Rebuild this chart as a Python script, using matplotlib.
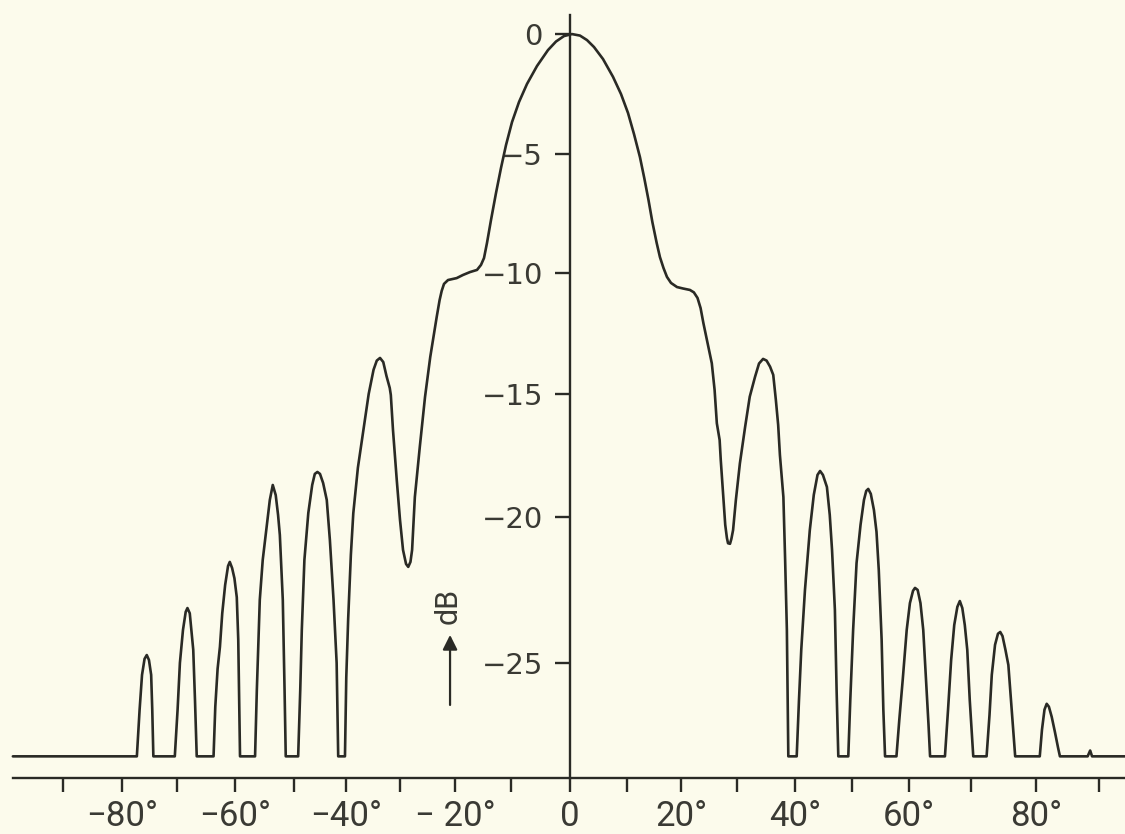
import numpy as np
import matplotlib
matplotlib.use("Agg")
import matplotlib.pyplot as plt
from matplotlib.ticker import FixedLocator, FixedFormatter

angle_deg = [
    -98.5, -77.3, -76.8, -76.36, -75.9, -75.5, -75.1, -74.7, -74.5, -74.3,
    -70.4, -69.9, -69.5, -68.97, -68.5, -68.2, -67.8, -67.5, -67.2, -66.9, -66.6,
    -63.7, -63.4, -63.0, -62.6, -62.2, -61.7, -61.2, -60.9, -60.5, -60.1, -59.7, -59.45, -59.3, -59.15,
    -56.6, -56.3, -55.8, -55.3, -54.7, -54.1, -53.6, -53.1, -52.7, -52.4, -51.9, -51.6, -51.4,
    -49.2, -48.8, -48.5, -48.0, -47.25, -46.5, -46.0, -45.5, -45.0, -44.4, -43.7, -43.1, -42.4, -41.8, -41.5,
    -40.2, -39.95, -39.6, -39.1, -38.65, -37.8, -36.8, -35.8, -34.9, -34.3, -33.7, -33.1, -32.5, -31.9,
    -31.7, -31.3, -30.6, -30.0, -29.45, -28.9, -28.5, -28.1, -27.8, -27.3, -26.4, -25.45, -24.5, -23.33,
    -22.8, -22.42, -22.0, -21.27, -19.7, -18.57, -17.32, -16.07, -15.36, -14.82, -14.29, -13.57, -12.68,
    -11.79, -10.89, -9.83, -8.64, -7.29, -5.59, -3.73, -2.37, -1.02, 0.35, 1.75, 2.98, 4.21, 5.79,
    7.54, 8.95, 10.19, 11.3, 12.4, 13.2, 13.98, 14.7, 15.5, 16.1, 16.76, 17.4, 18.15, 19.26, 20.36,
    21.6, 22.3, 22.95, 23.5, 24.0,
    24.75, 25.5, 26.0, 26.4, 26.9, 27.1, 27.55, 27.9, 28.2, 28.4, 28.75, 29.0, 29.3, 29.8, 30.5, 31.4,
    32.2, 33.1, 33.8, 34.5, 35.1, 35.7, 36.25, 36.7, 37.1, 37.4, 38.0, 38.3, 38.6, 38.85,
    40.3, 40.7, 41.1, 41.75, 42.6, 43.3, 43.95, 44.4, 44.9, 45.6, 46.1, 46.5, 47.0, 47.3, 47.6,
    49.35, 49.7, 50.2, 50.8, 51.5, 52.1, 52.5, 52.85, 53.3, 53.85, 54.3, 54.7, 55.2, 55.5, 55.8,
    57.8, 58.3, 58.9, 59.6, 60.15, 60.65, 60.97, 61.4, 61.85, 62.3, 62.75, 63.15, 63.4,
    65.8, 66.3, 66.8, 67.3, 67.8, 68.2, 68.6, 69.0, 69.4, 69.8, 70.35,
    72.4, 72.85, 73.2, 73.7, 74.15, 74.5, 74.85, 75.3, 75.75, 76.15, 76.5, 76.8,
    80.6, 80.95, 81.35, 81.7, 82.05, 82.5, 83.0, 83.5, 83.8,
    88.2, 88.6, 88.9, 94.1,
]
level_db = [
    -28.2, -28.2, -26.6, -25.41, -24.86, -24.73, -24.9, -25.41, -26.6, -28.2,
    -28.2, -26.6, -25.0, -23.87, -23.25, -23.12, -23.3, -23.94, -24.55, -26.27, -28.2,
    -28.2, -26.5, -25.2, -24.45, -23.3, -22.33, -21.68, -21.54, -21.75, -22.1, -22.75, -24.2, -26.3, -28.2,
    -28.2, -25.93, -22.84, -21.47, -20.45, -19.31, -18.7, -19.11, -19.92, -20.62, -22.84, -25.93, -28.2,
    -28.2, -25.93, -23.87, -21.47, -19.84, -18.7, -18.25, -18.17, -18.25, -18.62, -19.31, -20.79, -22.84, -25.0, -28.2,
    -28.2, -25.5, -23.5, -21.3, -19.85, -18.0, -16.5, -15.0, -14.0, -13.62, -13.51, -13.68, -14.26, -14.75,
    -15.04, -16.46, -18.5, -20.1, -21.13, -21.61, -21.71, -21.54, -21.13, -19.19, -17.15, -15.12, -13.47, -11.82,
    -11.12, -10.74, -10.45, -10.29, -10.21, -10.08, -9.96, -9.87, -9.66, -9.37, -8.74, -7.77, -6.64,
    -5.59, -4.625, -3.67, -2.83, -2.08, -1.33, -0.667, -0.31, -0.083, 0.0, -0.063, -0.25, -0.54, -1.04,
    -1.78, -2.5, -3.29, -4.17, -5.13, -6.01, -6.93, -7.86, -8.74, -9.33, -9.79, -10.16, -10.41, -10.58, -10.64,
    -10.70, -10.80, -11.03, -11.45, -12.07,
    -12.89, -13.73, -14.83, -16.19, -16.87, -17.68, -19.17, -20.27, -20.72, -20.90, -20.92, -20.75, -20.45, -19.31, -17.82, -16.34,
    -15.11, -14.3, -13.74, -13.55, -13.62, -13.87, -14.21, -15.24, -16.26, -17.48, -19.19, -21.47, -23.87, -28.2,
    -28.2, -26.27, -24.55, -22.5, -20.45, -19.1, -18.29, -18.13, -18.29, -18.78, -19.92, -21.13, -23.18, -25.93, -28.2,
    -28.2, -26.27, -23.87, -21.58, -20.27, -19.31, -18.94, -18.86, -19.06, -19.72, -20.51, -21.82, -24.2, -26.6, -28.2,
    -28.2, -26.95, -25.58, -23.87, -22.95, -22.53, -22.43, -22.5, -22.95, -23.87, -25.58, -27.12, -28.2,
    -28.2, -26.6, -24.9, -23.7, -23.08, -22.88, -23.12, -23.7, -24.55, -26.27, -28.2,
    -28.2, -26.78, -25.41, -24.38, -24.0, -23.94, -24.08, -24.55, -25.07, -26.27, -27.29, -28.2,
    -28.2, -27.29, -26.6, -26.4, -26.5, -26.85, -27.36, -27.9, -28.2,
    -28.2, -28.0, -28.2, -28.2,
]

x_ticks = [-90, -80, -70, -60, -50, -40, -30, -20, -10, 0, 10, 20, 30, 40, 50, 60, 70, 80, 90]
x_tick_labels = ["", "\u221280\u00b0", "", "\u221260\u00b0", "", "\u221240\u00b0", "", "\u2212 20\u00b0", "",
                 "0", "", "20\u00b0", "", "40\u00b0", "", "60\u00b0", "", "80\u00b0", ""]
y_ticks = [0, -5, -10, -15, -20, -25]
y_tick_labels = ["0", "\u22125", "\u221210", "\u221215", "\u221220", "\u221225"]

# graduation of the recorder chart paper (non-uniform as printed)
x_grad_deg = np.array([-110, -90, -80, -70, -60, -50, -40, -30, -20, -10, 0,
                       10, 20, 30, 40, 50, 60, 70, 80, 90, 110], float)
x_grad_pos = np.array([-55, 63, 122, 177, 235, 294, 346, 400, 455, 511, 570,
                       627, 681, 737, 795, 852, 909, 971, 1036, 1099, 1225], float)
y_grad_db = np.array([-40, -25, -20, -15, -10, -5, 0, 10], float)
y_grad_pos = -np.array([1101, 663, 517, 394, 273, 154, 34, -206], float)


def fx(v):
    return np.interp(v, x_grad_deg, x_grad_pos)


def ix(v):
    return np.interp(v, x_grad_pos, x_grad_deg)


def fy(v):
    return np.interp(v, y_grad_db, y_grad_pos)


def iy(v):
    return np.interp(v, y_grad_pos, y_grad_db)


# ---------------- styling ----------------
BG = "#fcfbec"
INK = "#2a2a25"
TXT = "#3a3a34"
NARROW = ["Roboto", "DejaVu Sans"]

fig = plt.figure(figsize=(11.25, 8.34), dpi=100, facecolor=BG)
ax = fig.add_axes([0, 0, 1, 1], facecolor=BG)
ax.set_xscale("function", functions=(fx, ix))
ax.set_yscale("function", functions=(fy, iy))
ax.set_xlim(-100.68, 94.13)
ax.set_ylim(-30.86, 1.42)

ax.plot(angle_deg, level_db, color=INK, lw=1.9, solid_joinstyle="round",
        solid_capstyle="round", zorder=3)

AXIS_Y = -28.94
for s in ("top", "right"):
    ax.spines[s].set_visible(False)
ax.spines["left"].set_position(("data", 0))
ax.spines["left"].set_bounds(AXIS_Y, 0.8)
ax.spines["bottom"].set_position(("data", AXIS_Y))
ax.spines["bottom"].set_bounds(-98.5, 94.13)
for s in ("left", "bottom"):
    ax.spines[s].set_color(INK)
    ax.spines[s].set_linewidth(1.7)

ax.xaxis.set_major_locator(FixedLocator(x_ticks))
ax.xaxis.set_major_formatter(FixedFormatter(x_tick_labels))
ax.yaxis.set_major_locator(FixedLocator(y_ticks))
ax.yaxis.set_major_formatter(FixedFormatter(y_tick_labels))
ax.xaxis.set_minor_locator(FixedLocator([]))
ax.yaxis.set_minor_locator(FixedLocator([]))

ax.tick_params(axis="x", direction="out", length=10, width=1.7, color=INK,
               pad=6, labelsize=25, labelcolor=TXT)
ax.tick_params(axis="y", direction="out", length=10.5, width=1.7, color=INK,
               pad=9, labelsize=21, labelcolor=TXT)
for lab in ax.get_xticklabels():
    lab.set_family(NARROW)
for lab in ax.get_yticklabels():
    lab.set_family(["DejaVu Sans"])

# dB unit label with arrow
ax.annotate("", xy=(-20.9, -24.04), xytext=(-20.9, -26.44),
            arrowprops=dict(arrowstyle="-|>", color=INK, lw=1.6, mutation_scale=22,
                            shrinkA=0, shrinkB=0))
ax.text(-21.3, -23.05, "dB", rotation=90, ha="center", va="center",
        fontsize=22, color=TXT, family=NARROW)

fig.savefig("out.png", dpi=100, facecolor=BG)
